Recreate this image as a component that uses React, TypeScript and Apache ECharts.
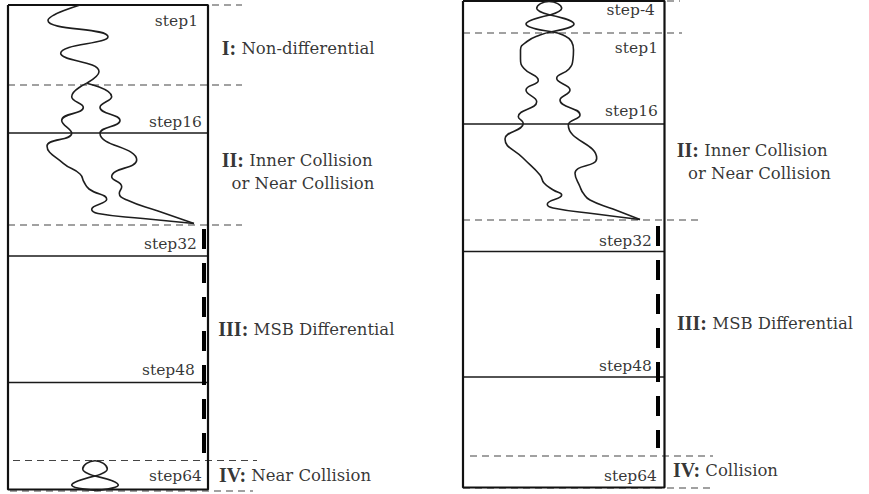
import React, { useEffect, useRef } from "react";
import * as echarts from "echarts";

// Units: pixels measured from each box's top-left corner (x to the right, y downwards)

// ---------------- LEFT PANEL ----------------
const leftBox = [[0, 0], [200, 0], [200, 484.5], [0, 484.5], [0, 0]];
const leftDashedRows = [[0, 0, 234], [0, 80, 234], [0, 220, 234], [5, 455.5, 249], [2, 486, 245]]; // [x0, y, x1]
const leftStepRows = [128, 251, 377.5]; // step16, step32, step48 boundaries
const leftBar = [[196, 224], [196, 448]];
const leftTopCurve = [[72, 0], [40, 15.5], [100, 31.7], [52.7, 48.3], [91, 66.7], [78.7, 78.3]];
const leftBranchA = [[78.7, 78.3], [63.7, 91.7], [75.3, 102.3], [53.7, 115.5], [63.7, 128.3], [39, 141], [55.3, 158.3], [72, 169], [76, 177], [81, 184], [98.7, 194.3], [83.7, 204.3], [90, 208.5], [135, 213.5], [186, 218.5]];
const leftBranchB = [[78.7, 78.3], [103.7, 91.7], [92, 102.3], [112, 115.5], [92, 128.3], [128.7, 155], [103.7, 171.7], [113.7, 181.7], [111.3, 188.3], [119, 195], [150, 206], [186, 218.5]];
const leftBubble = [[87, 471], [74.7, 464], [87, 455.7], [99.3, 464], [87, 471]];
const leftLensA = [[87, 471], [63.7, 480], [88.7, 485.5]];
const leftLensB = [[87, 471], [110.3, 480], [88.7, 485.5]];
const leftStepNames = ["step1", "step16", "step32", "step48", "step64"];
const leftStepX = [190, 194, 189, 187, 194];
const leftStepY = [15.5, 117, 239, 365, 471];
const leftRegionBold = ["I:", "II:", "", "III:", "IV:"];
const leftRegionText = ["Non-differential", "Inner Collision", "or Near Collision", "MSB Differential", "Near Collision"];
const leftRegionX = [213.7, 213.7, 223.5, 210.3, 211];
const leftRegionY = [43, 155, 178, 324, 470];

// ---------------- RIGHT PANEL ----------------
const rightBox = [[0, 0], [201.5, 0], [201.5, 486.5], [0, 486.5], [0, 0]];
const rightDashedRows = [[0, 0, 217], [0, 32, 219], [0, 219, 235], [7, 455, 250], [0, 487, 252]];
const rightStepRows = [123, 250.5, 376];
const rightBar = [[195, 225], [195, 447]];
const rightBubble = [[87, 14], [73.7, 7.3], [86, 0.5], [98.7, 7.3], [87, 14]];
const rightLensA = [[87, 14], [63, 23], [88.7, 30.7]];
const rightLensB = [[87, 14], [111, 23], [88.7, 30.7]];
const rightBranchA = [[88.7, 30.7], [77, 34], [64, 40.5], [57.5, 49], [57.5, 58], [61, 67.5], [75.3, 79.5], [63, 89], [73.7, 100.7], [55.3, 115.7], [60.3, 122.3], [42, 138], [60.3, 157.3], [77, 174], [81, 182], [90.3, 189], [98.7, 194], [84.3, 203.3], [90, 207], [133, 213], [177, 218.5]];
const rightBranchB = [[88.7, 30.7], [100, 34], [108.5, 40.5], [110.5, 49], [110, 58], [106, 68], [93.7, 77.3], [107, 89], [97, 99], [117, 114], [105.3, 124], [133.7, 157.3], [112, 172.3], [117, 185.7], [120.3, 192.3], [127, 199], [150, 208], [177, 218.5]];
const rightStepNames = ["step-4", "step1", "step16", "step32", "step48", "step64"];
const rightStepX = [192, 195, 195, 189, 189, 194];
const rightStepY = [9, 47, 110, 240, 365, 475];
const rightRegionBold = ["II:", "", "III:", "IV:"];
const rightRegionText = ["Inner Collision", "or Near Collision", "MSB Differential", "Collision"];
const rightRegionX = [213.7, 225, 214, 210];
const rightRegionY = [149, 172, 322, 469];

const SERIF_REGULAR = "DejaVu Serif";
const SERIF_BOLD = "Liberation Serif";

export default function App() {
  const ref = useRef<HTMLDivElement>(null);
  useEffect(() => {
    if (!ref.current) return;
    const chart = echarts.init(ref.current, null, { renderer: "svg" });
    const series: any[] = [];

    const addLine = (gi: number, data: number[][], lineStyle: any, smooth: any = false, z = 2) => {
      series.push({
        type: "line",
        xAxisIndex: gi,
        yAxisIndex: gi,
        data,
        smooth,
        symbol: "none",
        showSymbol: false,
        silent: true,
        clip: false,
        z,
        lineStyle,
      });
    };

    const addLabels = (gi: number, bold: string[] | null, names: string[], xs: number[], ys: number[], alignRight: boolean, size: number) => {
      series.push({
        type: "scatter",
        xAxisIndex: gi,
        yAxisIndex: gi,
        symbol: "circle",
        symbolSize: 0,
        silent: true,
        z: 5,
        itemStyle: { color: "transparent" },
        data: names.map((n, i) => ({
          name: n,
          value: [xs[i], ys[i]],
          label: {
            formatter: bold && bold[i] ? `{b|${bold[i]}}{n| ${n}}` : `{n|${n}}`,
          },
        })),
        label: {
          show: true,
          position: alignRight ? "left" : "right",
          distance: 0,
          fontFamily: SERIF_REGULAR,
          fontSize: size,
          color: "#000",
          rich: {
            b: { fontFamily: SERIF_BOLD, fontSize: 20, fontWeight: "bold", color: "#000", lineHeight: 22 },
            n: { fontFamily: SERIF_REGULAR, fontSize: size, fontWeight: "normal", color: "#000", lineHeight: 22 },
          },
        },
      });
    };

    const panels = [
      {
        box: leftBox, dashed: leftDashedRows, steps: leftStepRows, bar: leftBar,
        curves: [leftTopCurve, leftBranchA, leftBranchB, leftBubble, leftLensA, leftLensB],
        stepNames: leftStepNames, stepX: leftStepX, stepY: leftStepY,
        regionBold: leftRegionBold, regionText: leftRegionText, regionX: leftRegionX, regionY: leftRegionY,
      },
      {
        box: rightBox, dashed: rightDashedRows, steps: rightStepRows, bar: rightBar,
        curves: [rightBranchA, rightBranchB, rightBubble, rightLensA, rightLensB],
        stepNames: rightStepNames, stepX: rightStepX, stepY: rightStepY,
        regionBold: rightRegionBold, regionText: rightRegionText, regionX: rightRegionX, regionY: rightRegionY,
      },
    ];

    panels.forEach((p, gi) => {
      const w = p.box[1][0];
      p.dashed.forEach((r) => addLine(gi, [[r[0], r[1]], [r[2], r[1]]], { color: "#444", width: 1.2, type: [7, 5] }, false, 1));
      p.steps.forEach((y) => addLine(gi, [[0, y], [w, y]], { color: "#1a1a1a", width: 1.3 }, false, 2));
      addLine(gi, p.box, { color: "#111", width: 2.2 }, false, 3);
      addLine(gi, p.bar, { color: "#000", width: 4, type: [20, 14], cap: "butt" }, false, 4);
      p.curves.forEach((c) => addLine(gi, c, { color: "#1e1e1e", width: 1.6 }, 0.5, 3));
      addLabels(gi, null, p.stepNames, p.stepX, p.stepY, true, 15.5);
      addLabels(gi, p.regionBold, p.regionText, p.regionX, p.regionY, false, 16.5);
    });

    const hiddenAxis = { show: false, type: "value" as const, splitLine: { show: false } };

    chart.setOption({
      animation: false,
      backgroundColor: "#ffffff",
      grid: [
        { left: 0, top: 0, width: 434, height: 494 },
        { left: 434, top: 0, width: 435, height: 494 },
      ],
      xAxis: [
        { ...hiddenAxis, gridIndex: 0, min: -8, max: 426 },
        { ...hiddenAxis, gridIndex: 1, min: -29, max: 406 },
      ],
      yAxis: [
        { ...hiddenAxis, gridIndex: 0, min: -5, max: 489, inverse: true },
        { ...hiddenAxis, gridIndex: 1, min: -1, max: 493, inverse: true },
      ],
      series,
    });

    return () => chart.dispose();
  }, []);

  return (
    <div
      ref={ref}
      style={{ position: "absolute", left: 0, top: 0, width: 869, height: 494, background: "#fff" }}
    />
  );
}
